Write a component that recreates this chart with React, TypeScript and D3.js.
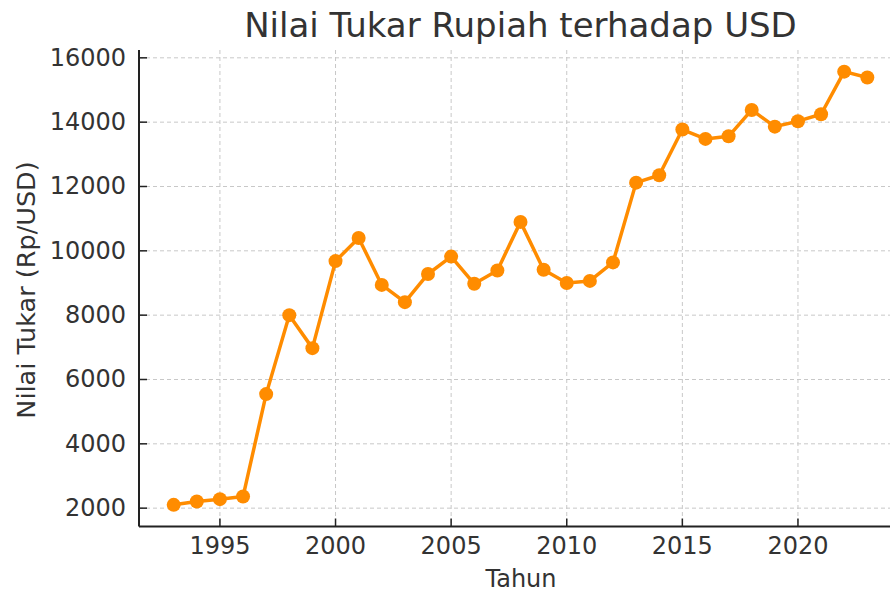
import React from "react";
import * as d3 from "d3";

const years = [1993,1994,1995,1996,1997,1998,1999,2000,2001,2002,2003,2004,2005,2006,2007,2008,2009,2010,2011,2012,2013,2014,2015,2016,2017,2018,2019,2020,2021,2022,2023];
const rates = [2103,2205,2280,2360,5545,8000,6975,9680,10400,8940,8405,9280,9820,8975,9390,10900,9410,9000,9065,9640,12120,12350,13770,13480,13560,14380,13860,14030,14245,15570,15390];
const xTicks = [1995,2000,2005,2010,2015,2020];
const yTicks = [2000,4000,6000,8000,10000,12000,14000,16000];

const title = "Nilai Tukar Rupiah terhadap USD";
const xLabel = "Tahun";
const yLabel = "Nilai Tukar (Rp/USD)";

export default function App() {
  const W = 890, H = 592;
  const left = 139, right = 902, top = 50, bottom = 526.5;
  const xMin = d3.min(years)!, xMax = d3.max(years)!;
  const xm = (xMax - xMin) * 0.05;
  const yMin = d3.min(rates)!, yMax = d3.max(rates)!;
  const ym = (yMax - yMin) * 0.05;
  const x = d3.scaleLinear().domain([xMin - xm, xMax + xm]).range([left, right]);
  const y = d3.scaleLinear().domain([yMin - ym, yMax + ym]).range([bottom, top]);
  const line = d3.line<number>().x((_, i) => x(years[i])).y((d) => y(d));
  const font = "'DejaVu Sans', sans-serif";
  const txt = "#333333";
  const orange = "#FF8C00";
  return (
    <svg width={W} height={H} style={{ position: "absolute", left: 0, top: 0 }} fontFamily={font}>
      <rect width={W} height={H} fill="#ffffff" />
      {/* grid */}
      {xTicks.map((t) => (
        <line key={"gx" + t} x1={x(t)} x2={x(t)} y1={top} y2={bottom} stroke="#c8c8c8" strokeWidth={1} strokeDasharray="4,3" />
      ))}
      {yTicks.map((t) => (
        <line key={"gy" + t} x1={left} x2={right} y1={y(t)} y2={y(t)} stroke="#c8c8c8" strokeWidth={1} strokeDasharray="4,3" />
      ))}
      {/* data */}
      <path d={line(rates) || ""} fill="none" stroke={orange} strokeWidth={3.5} strokeLinejoin="round" />
      {rates.map((v, i) => (
        <circle key={"p" + i} cx={x(years[i])} cy={y(v)} r={7} fill={orange} />
      ))}
      {/* spines */}
      <line x1={left} x2={left} y1={top} y2={bottom} stroke="#222" strokeWidth={2} />
      <line x1={left} x2={right} y1={bottom} y2={bottom} stroke="#222" strokeWidth={2} />
      {/* ticks */}
      {xTicks.map((t) => (
        <g key={"tx" + t}>
          <line x1={x(t)} x2={x(t)} y1={bottom} y2={bottom - 8} stroke="#222" strokeWidth={1.5} />
          <text x={x(t)} y={554} textAnchor="middle" fontSize={24} fill={txt}>{t}</text>
        </g>
      ))}
      {yTicks.map((t) => (
        <g key={"ty" + t}>
          <line x1={left} x2={left + 8} y1={y(t)} y2={y(t)} stroke="#222" strokeWidth={1.5} />
          <text x={126} y={y(t)} textAnchor="end" dominantBaseline="central" fontSize={24} fill={txt}>{t}</text>
        </g>
      ))}
      {/* labels */}
      <text x={520.5} y={37} textAnchor="middle" fontSize={34} fill={txt}>{title}</text>
      <text x={521} y={587} textAnchor="middle" fontSize={24} fill={txt}>{xLabel}</text>
      <text transform={`translate(35,290) rotate(-90)`} textAnchor="middle" fontSize={25.5} fill={txt}>{yLabel}</text>
    </svg>
  );
}
